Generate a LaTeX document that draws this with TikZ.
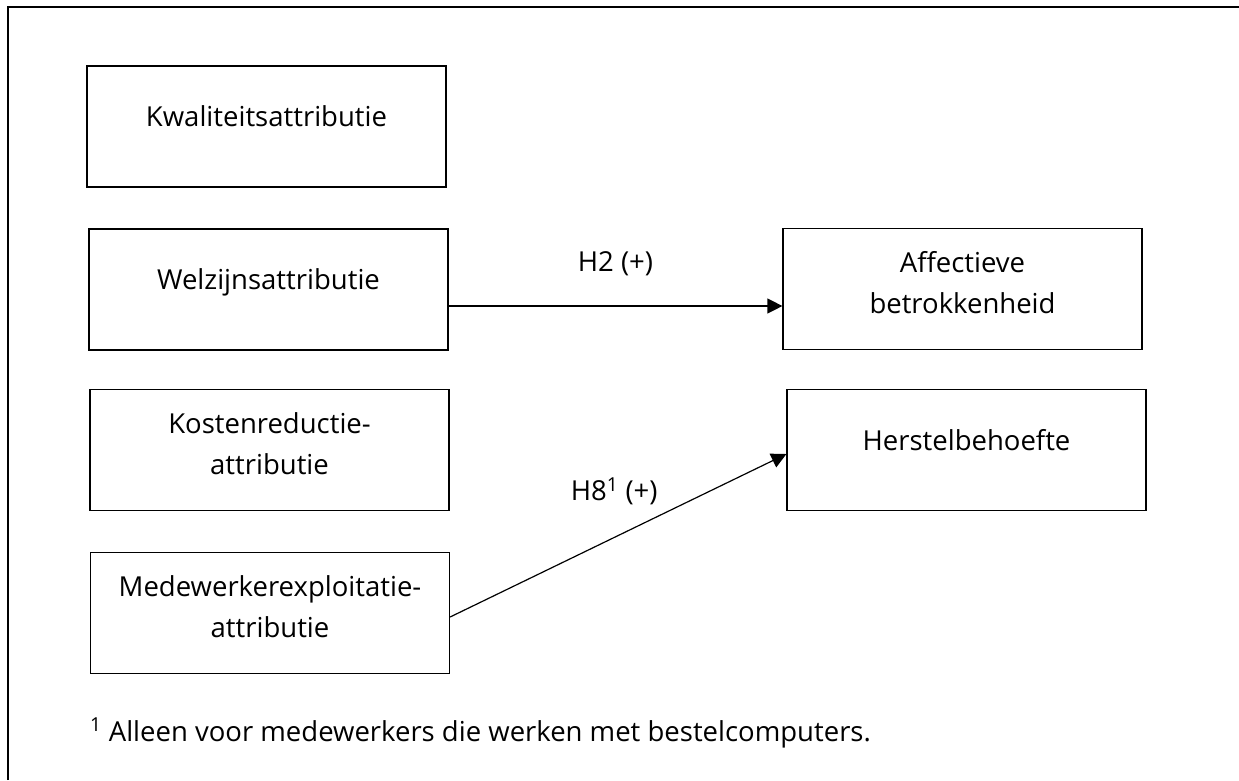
\documentclass[tikz,border=0pt]{standalone}
\usepackage{fontspec}
\setmainfont{Open Sans}
\usetikzlibrary{arrows.meta}

\tikzset{
  vak/.style={draw, line width=1.2pt, minimum width=359pt, minimum height=121pt, inner sep=0pt},
  tekst/.style={anchor=base, align=center, inner sep=0pt, font=\fontsize{27.5}{41}\selectfont},
  pijl/.style={-{Triangle[length=15pt, width=15pt]}, line width=1.2pt}
}

\begin{document}
\begin{tikzpicture}[x=1pt, y=-1pt]
			\useasboundingbox (0,0) rectangle (1239,780);
			\begin{scope}
				\draw[line width=1.5pt] (8,780) -- (8,7) -- (1239,7); % kader

				\node[vak] (kwal) at (266.5,126.5) {};
				\node[vak] (welz) at (268.5,289.5) {};
				\node[vak] (kost) at (269.5,450) {};
				\node[vak] (medew) at (270,613) {};
				\node[vak] (affect) at (962.5,289) {};
				\node[vak] (herstel) at (966.5,450) {};

				\node[tekst] (kwaltxt) at (kwal.center) {Kwaliteitsattributie};
				\node[tekst] (welztxt) at (welz.center) {Welzijnsattributie};
				\node[tekst] (kosttxt) at ([yshift=-24pt]kost.center) {Kostenreductie-\\attributie};
				\node[tekst] (medewtxt) at ([yshift=-24pt]medew.center) {Medewerkerexploitatie-\\attributie};
				\node[tekst] (affecttxt) at ([yshift=-24pt]affect.center) {Affectieve\\betrokkenheid};
				\node[tekst] (hersteltxt) at (herstel.center) {Herstelbehoefte};

				\draw[pijl] ([yshift=-16.5pt]welz.east) -- ([yshift=-17pt]affect.west)
					node[tekst, midway, yshift=35pt] (h2) {H2 (+)}; % welzijn naar affectief
				\draw[pijl] ([yshift=-4pt]medew.east) -- ([yshift=-4pt]herstel.west)
					node[tekst, midway, xshift=-4pt, yshift=35pt] (h8) {H8\textsuperscript{1} (+)}; % exploitatie naar herstel

				\node[tekst, anchor=base west] (voetnoot) at (90,741) {\textsuperscript{1} Alleen voor medewerkers die werken met bestelcomputers.};
			\end{scope}
\end{tikzpicture}
\end{document}
